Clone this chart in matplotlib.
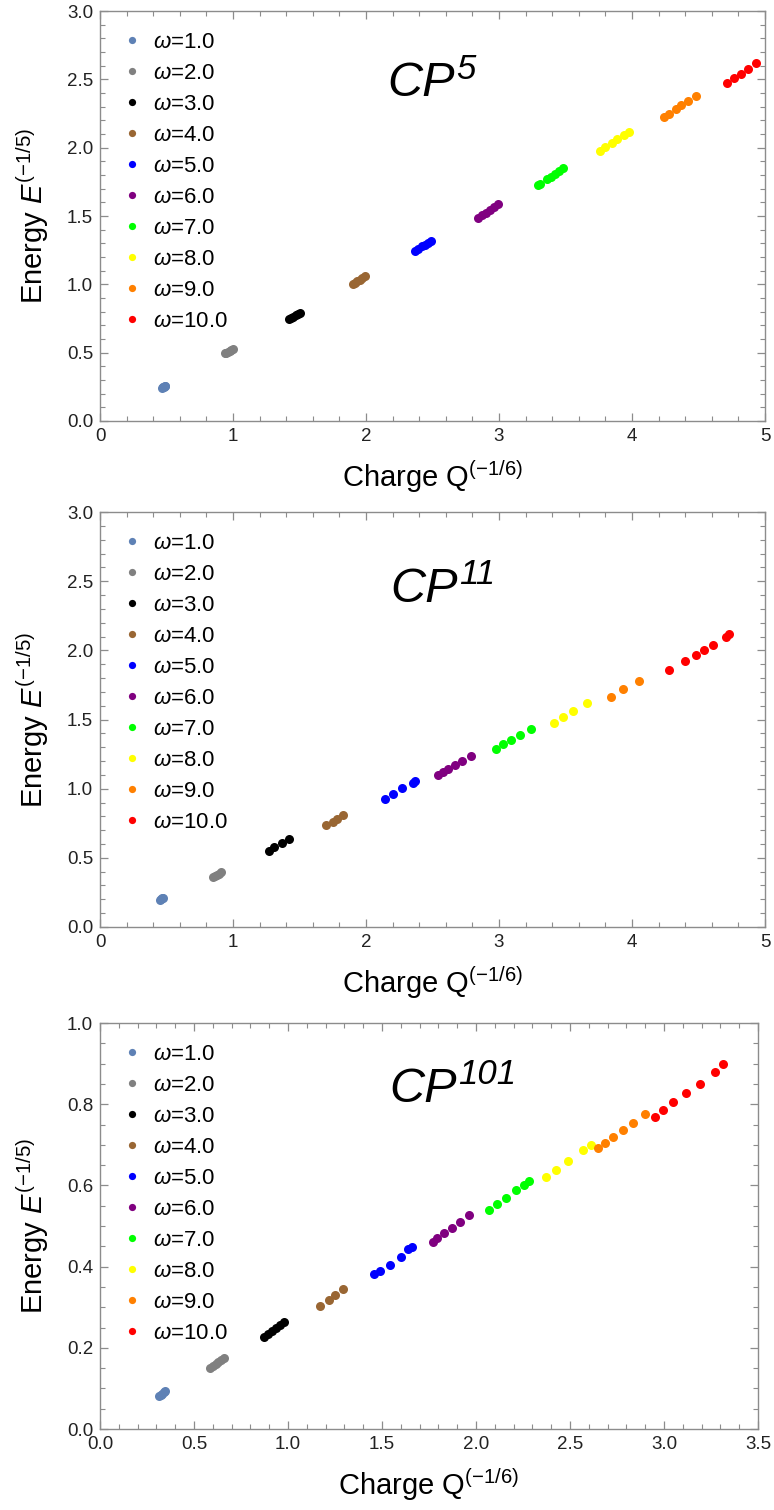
import numpy as np
import matplotlib.pyplot as plt
from matplotlib.ticker import MultipleLocator

plt.rcParams.update({
    "font.family": ["Liberation Sans", "DejaVu Sans"],
    "mathtext.fontset": "custom",
    "mathtext.rm": "Liberation Sans",
    "mathtext.it": "Liberation Sans:italic",
    "mathtext.bf": "Liberation Sans:bold",
})

omegas = [1.0, 2.0, 3.0, 4.0, 5.0, 6.0, 7.0, 8.0, 9.0, 10.0]
colors = ["#5E81B5", "#808080", "#000000", "#996633", "#0000FF",
          "#800080", "#00FF00", "#FFFF00", "#FF8000", "#FF0000"]

# CP^5 : charge Q^(-1/6) and energy E^(-1/5), one list per omega
cp5_q = [
    [0.465, 0.470, 0.475, 0.480, 0.485, 0.490],
    [0.94, 0.95, 0.96, 0.975, 0.985, 1.00],
    [1.42, 1.435, 1.45, 1.47, 1.485, 1.50],
    [1.90, 1.92, 1.935, 1.955, 1.97, 1.99],
    [2.37, 2.39, 2.42, 2.44, 2.465, 2.49],
    [2.84, 2.87, 2.90, 2.93, 2.96, 2.99],
    [3.29, 3.31, 3.36, 3.39, 3.42, 3.45, 3.48],
    [3.76, 3.80, 3.85, 3.89, 3.94, 3.98],
    [4.24, 4.28, 4.33, 4.37, 4.42, 4.48],
    [4.717, 4.767, 4.82, 4.875, 4.932],
]
cp5_e = [
    [0.243, 0.246, 0.249, 0.252, 0.255, 0.258],
    [0.495, 0.501, 0.507, 0.515, 0.521, 0.527],
    [0.745, 0.754, 0.763, 0.775, 0.784, 0.792],
    [1.000, 1.012, 1.022, 1.035, 1.046, 1.060],
    [1.245, 1.258, 1.277, 1.290, 1.305, 1.320],
    [1.485, 1.505, 1.525, 1.545, 1.565, 1.585],
    [1.725, 1.737, 1.768, 1.789, 1.810, 1.832, 1.853],
    [1.975, 2.002, 2.035, 2.060, 2.092, 2.117],
    [2.225, 2.250, 2.280, 2.310, 2.340, 2.380],
    [2.473, 2.507, 2.540, 2.575, 2.617],
]

# CP^11
cp11_q = [
    [0.450, 0.458, 0.466, 0.476],
    [0.85, 0.865, 0.88, 0.895, 0.91],
    [1.27, 1.31, 1.37, 1.42],
    [1.70, 1.75, 1.78, 1.83],
    [2.14, 2.20, 2.27, 2.35, 2.37],
    [2.54, 2.58, 2.62, 2.67, 2.72, 2.79],
    [2.975, 3.03, 3.09, 3.155, 3.24],
    [3.41, 3.48, 3.56, 3.66],
    [3.84, 3.93, 4.05],
    [4.28, 4.40, 4.48, 4.54, 4.61, 4.71, 4.73],
]
cp11_e = [
    [0.196, 0.201, 0.206, 0.212],
    [0.362, 0.370, 0.378, 0.386, 0.394],
    [0.548, 0.577, 0.606, 0.635],
    [0.734, 0.761, 0.783, 0.807],
    [0.928, 0.962, 1.002, 1.040, 1.056],
    [1.096, 1.120, 1.145, 1.170, 1.200, 1.235],
    [1.288, 1.320, 1.350, 1.390, 1.435],
    [1.478, 1.517, 1.563, 1.616],
    [1.660, 1.720, 1.780],
    [1.860, 1.925, 1.970, 2.005, 2.040, 2.100, 2.120],
]

# CP^101
cp101_q = [
    [0.315, 0.323, 0.331, 0.339, 0.347],
    [0.585, 0.60, 0.615, 0.63, 0.645, 0.66],
    [0.874, 0.895, 0.916, 0.937, 0.958, 0.98],
    [1.17, 1.22, 1.25, 1.29],
    [1.46, 1.49, 1.54, 1.60, 1.64, 1.66],
    [1.77, 1.795, 1.83, 1.87, 1.915, 1.965],
    [2.07, 2.11, 2.16, 2.215, 2.255, 2.28],
    [2.37, 2.425, 2.49, 2.57, 2.61],
    [2.647, 2.687, 2.73, 2.78, 2.835, 2.90],
    [2.95, 2.995, 3.05, 3.115, 3.19, 3.27, 3.315],
]
cp101_e = [
    [0.081, 0.084, 0.087, 0.091, 0.094],
    [0.150, 0.155, 0.160, 0.165, 0.170, 0.175],
    [0.227, 0.234, 0.242, 0.249, 0.257, 0.264],
    [0.303, 0.319, 0.330, 0.344],
    [0.381, 0.390, 0.404, 0.424, 0.443, 0.449],
    [0.460, 0.470, 0.482, 0.495, 0.510, 0.527],
    [0.540, 0.554, 0.569, 0.588, 0.601, 0.612],
    [0.620, 0.638, 0.660, 0.688, 0.700],
    [0.691, 0.704, 0.719, 0.736, 0.754, 0.776],
    [0.769, 0.786, 0.805, 0.827, 0.851, 0.880, 0.900],
]

panels = [
    dict(q=cp5_q, e=cp5_e, sup="5",
         rect=[0.1292, 0.7212, 0.8592, 0.2715], xlim=(0, 5), ylim=(0, 3),
         xmaj=1, xmin=0.2, ymaj=0.5, ymin=0.1, xfmt="{:.0f}", yfmt="{:.1f}",
         tpos=(0.432, 0.793)),
    dict(q=cp11_q, e=cp11_e, sup="11",
         rect=[0.1292, 0.3861, 0.8592, 0.2748], xlim=(0, 5), ylim=(0, 3),
         xmaj=1, xmin=0.2, ymaj=0.5, ymin=0.1, xfmt="{:.0f}", yfmt="{:.1f}",
         tpos=(0.436, 0.784)),
    dict(q=cp101_q, e=cp101_e, sup="101",
         rect=[0.1292, 0.0536, 0.8501, 0.2689], xlim=(0, 3.5), ylim=(0, 1),
         xmaj=0.5, xmin=0.1, ymaj=0.2, ymin=0.05, xfmt="{:.1f}", yfmt="{:.1f}",
         tpos=(0.440, 0.806)),
]

fig = plt.figure(figsize=(7.74, 15.10), dpi=100)

for p in panels:
    ax = fig.add_axes(p["rect"])
    for w, c, qs, es in zip(omegas, colors, p["q"], p["e"]):
        ax.plot(qs, es, "o", ls="none", color=c, markersize=6.5,
                markeredgewidth=0, label=r"$\omega$=" + f"{w:.1f}")
    ax.set_xlim(*p["xlim"])
    ax.set_ylim(*p["ylim"])
    ax.xaxis.set_major_locator(MultipleLocator(p["xmaj"]))
    ax.xaxis.set_minor_locator(MultipleLocator(p["xmin"]))
    ax.yaxis.set_major_locator(MultipleLocator(p["ymaj"]))
    ax.yaxis.set_minor_locator(MultipleLocator(p["ymin"]))
    xf, yf = p["xfmt"], p["yfmt"]
    ax.xaxis.set_major_formatter(plt.FuncFormatter(lambda v, _, f=xf: f.format(v)))
    ax.yaxis.set_major_formatter(plt.FuncFormatter(lambda v, _, f=yf: f.format(v)))
    ax.tick_params(which="both", direction="in", top=True, right=True,
                   color="#8c8c8c", labelsize=13.5, labelcolor="#222222", pad=5)
    ax.tick_params(which="major", length=6, width=0.9)
    ax.tick_params(which="minor", length=3.5, width=0.8)
    for s in ax.spines.values():
        s.set_color("#8c8c8c")
        s.set_linewidth(1.0)
    ax.set_xlabel(r"Charge $\mathrm{Q}^{(-1/6)}$", fontsize=21, labelpad=10)
    ax.set_ylabel(r"Energy $\mathit{E}^{(-1/5)}$", fontsize=21)
    ax.yaxis.set_label_coords(-0.074, 0.5)

    # CP^n label with italic superscript
    t = ax.text(p["tpos"][0], p["tpos"][1], "CP", transform=ax.transAxes,
                fontsize=35, style="italic", ha="left", va="baseline")
    ax.annotate(p["sup"], xy=(1.0, 1.0), xycoords=t, xytext=(1, 6),
                textcoords="offset points", fontsize=25, style="italic",
                ha="left", va="top")

    ax.legend(loc="upper left", bbox_to_anchor=(0.01, 0.99), frameon=False,
              fontsize=16, markerscale=0.8, handlelength=0.8,
              handletextpad=0.55, labelspacing=0.45, borderpad=0.25)

fig.savefig("out.png", dpi=100)
